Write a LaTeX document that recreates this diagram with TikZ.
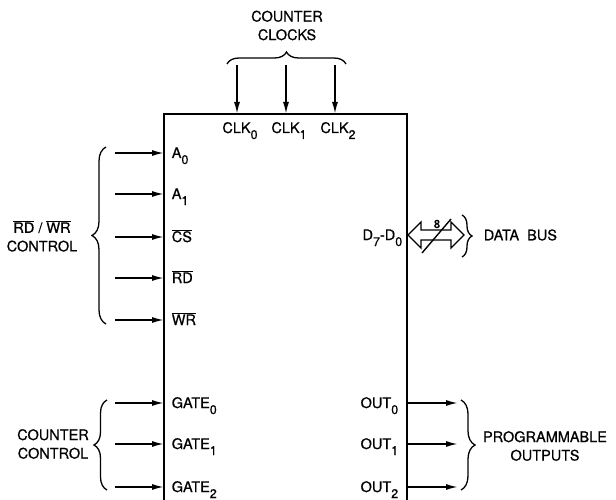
\documentclass[tikz,border=0pt]{standalone}
\usepackage{fontspec}
\setmainfont[FakeBold=0.6,AutoFakeBold=0.6]{TeX Gyre Heros}
\usetikzlibrary{arrows.meta,decorations.pathreplacing}
\newcommand\subx[1]{\raisebox{-6pt}{\fontsize{12.5}{12.5}\selectfont#1}}
\newcommand\ovl[1]{$\overline{\mbox{#1}}$}

\begin{document}
\begin{tikzpicture}[x=1pt,y=-1pt,>={Latex[length=12pt,width=6pt]},
  font=\fontsize{14.5}{18.5}\selectfont\bfseries,line width=1.6pt,
  brc/.style={decorate,decoration={brace,amplitude=#1},line width=1.3pt},
  lab/.style={inner sep=0pt}]
  \useasboundingbox (0,0) rectangle (616,500);
  % chip outline, cut off at the bottom
  \coordinate (bl) at (164,500); \coordinate (tl) at (164,114);
  \coordinate (tr) at (407,114); \coordinate (br) at (407,500);
  \draw[line width=2.6pt] (bl) -- (tl) -- (tr) -- (br);
  % counter clocks
  \foreach \x/\n in {237/0,286/1,335/2} {
    \coordinate (clk\n s) at (\x,65);
    \node[lab,anchor=base] (clk\n) at (\x+3,133) {CLK\subx{\n}};
    \draw[->] (clk\n s) -- (clk\n s |- tr);
  }
  \draw[brc=12] (227,64) -- (346,64);
  \node[lab,align=center] (clocks) at (287,25.5) {COUNTER\\CLOCKS};
  % inputs on the left
  \foreach \y/\n/\lab in {153/a0/A\subx{0},194/a1/A\subx{1},237/cs/\ovl{CS},
      278/rd/\ovl{RD},320/wr/\ovl{WR},403/g0/GATE\subx{0},
      444/g1/GATE\subx{1},487/g2/GATE\subx{2}} {
    \coordinate (\n s) at (115,\y);
    \node[lab,anchor=base west] (\n) at (171,\y+5) {\lab};
    \draw[->] (\n s) -- (\n s -| tl);
  }
  \draw[brc=14] (106,324) -- (106,147);
  \node[lab,align=center] (rdwr) at (42,236) {\ovl{RD} / \ovl{WR}\\CONTROL};
  \draw[brc=13] (107,490) -- (107,400);
  \node[lab,align=center] (cntctl) at (53,444) {COUNTER\\CONTROL};
  % outputs on the right
  \foreach \y/\n in {403/0,444/1,487/2} {
    \node[lab,anchor=base east] (out\n) at (399,\y+5) {OUT\subx{\n}};
    \coordinate (out\n e) at (458,\y);
    \draw[->] (out\n e -| tr) -- (out\n e);
  }
  \draw[brc=14] (461,400) -- (461,490);
  \node[lab,align=center] (progout) at (545,446) {PROGRAMMABLE\\OUTPUTS};
  % data bus
  \node[lab,anchor=base east] (dbus) at (403,240) {D\subx{7}-D\subx{0}};
  \draw[line width=1.4pt] (408,235) -- (421,222) -- (421,230) -- (451,230)
    -- (451,222) -- (464,235) -- (451,248) -- (451,240) -- (421,240)
    -- (421,248) -- cycle;
  \draw[line width=1.4pt] (422,253) -- (451,219);
  \node[lab,font=\fontsize{11.5}{12}\selectfont\bfseries] (width) at (437,224) {8};
  \draw[brc=10] (462,215) -- (462,257);
  \node[lab,anchor=west] (databus) at (483,235) {DATA\ \ BUS};
\end{tikzpicture}
\end{document}
